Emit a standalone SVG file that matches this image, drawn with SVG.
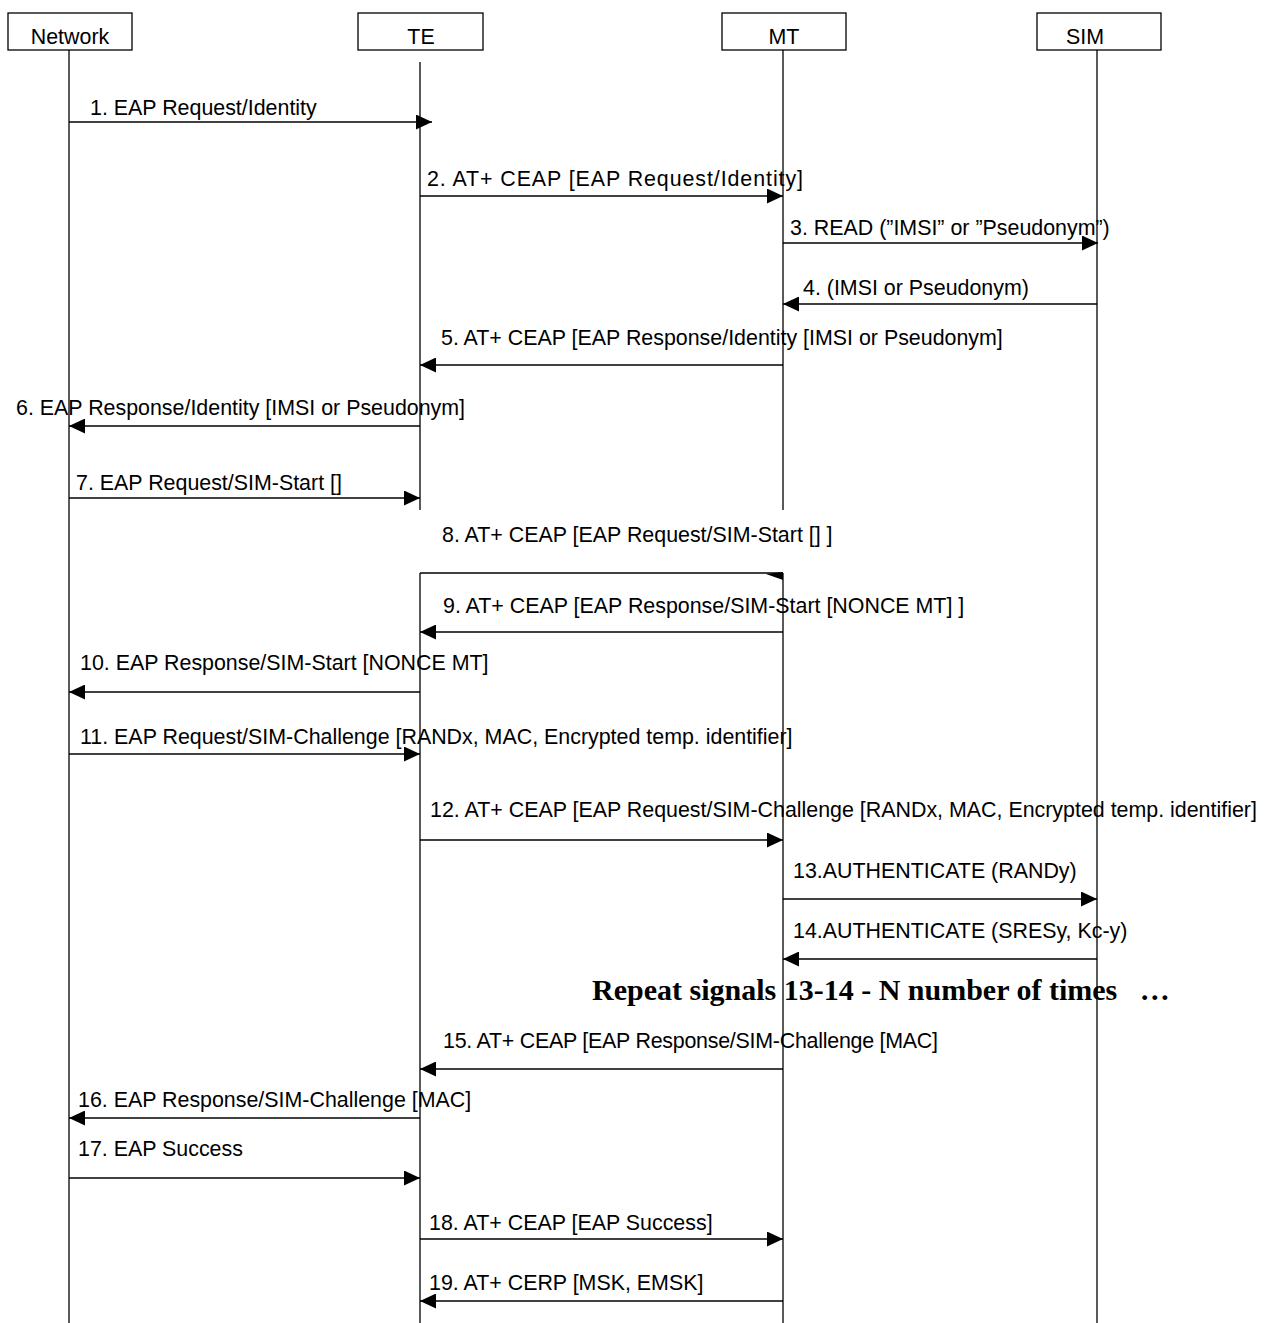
<svg xmlns="http://www.w3.org/2000/svg" width="1282" height="1323" viewBox="0 0 1282 1323">
  <style>
    .box { fill: #fff; stroke: #000; stroke-width: 1.3; }
    .life { stroke: #000; stroke-width: 1.3; fill: none; }
    .msg { stroke: #000; stroke-width: 1.3; fill: none; }
    .head { fill: #000; stroke: none; }
    text { font-family: "Liberation Sans", Arial, sans-serif; font-size: 21.4px; fill: #000; }
    .note { font-family: "Liberation Serif", "Times New Roman", serif; font-size: 30px; font-weight: bold; }
  </style>
  <defs>
    <marker id="arrowR" viewBox="0 0 16 15" refX="16" refY="7.5" markerWidth="16" markerHeight="15" markerUnits="userSpaceOnUse" orient="auto">
      <path class="head" d="M0,0 L16,7.5 L0,15 Z"/>
    </marker>
  </defs>

  <!-- participants -->
  <g id="network">
    <rect class="box" x="8" y="13" width="124" height="37"/>
    <text x="70" y="44" text-anchor="middle">Network</text>
    <line class="life" x1="69" y1="50" x2="69" y2="1323"/>
  </g>
  <g id="te">
    <rect class="box" x="358" y="13" width="125" height="37"/>
    <text x="421" y="44" text-anchor="middle">TE</text>
    <line class="life" x1="420" y1="62" x2="420" y2="510"/>
    <line class="life" x1="420" y1="573" x2="420" y2="1323"/>
  </g>
  <g id="mt">
    <rect class="box" x="722" y="13" width="124" height="37"/>
    <text x="784" y="44" text-anchor="middle">MT</text>
    <line class="life" x1="783" y1="50" x2="783" y2="510"/>
    <line class="life" x1="783" y1="573" x2="783" y2="1323"/>
  </g>
  <g id="sim">
    <rect class="box" x="1037" y="13" width="124" height="37"/>
    <text x="1066" y="44">SIM</text>
    <line class="life" x1="1097" y1="50" x2="1097" y2="1323"/>
  </g>

  <!-- messages -->
  <g id="connectors">
    <line class="msg" x1="69" y1="122" x2="432" y2="122" marker-end="url(#arrowR)"/>
    <line class="msg" x1="420" y1="196" x2="783" y2="196" marker-end="url(#arrowR)"/>
    <line class="msg" x1="783" y1="243" x2="1098" y2="243" marker-end="url(#arrowR)"/>
    <line class="msg" x1="1097" y1="304" x2="783" y2="304" marker-end="url(#arrowR)"/>
    <line class="msg" x1="783" y1="365" x2="420" y2="365" marker-end="url(#arrowR)"/>
    <line class="msg" x1="420" y1="426" x2="69" y2="426" marker-end="url(#arrowR)"/>
    <line class="msg" x1="69" y1="498" x2="420" y2="498" marker-end="url(#arrowR)"/>
    <line class="msg" x1="420" y1="573" x2="783" y2="573"/>
    <polygon class="head" points="766,574 783,572 783,580"/>
    <line class="msg" x1="783" y1="632" x2="420" y2="632" marker-end="url(#arrowR)"/>
    <line class="msg" x1="420" y1="692" x2="69" y2="692" marker-end="url(#arrowR)"/>
    <line class="msg" x1="69" y1="754" x2="420" y2="754" marker-end="url(#arrowR)"/>
    <line class="msg" x1="420" y1="840" x2="783" y2="840" marker-end="url(#arrowR)"/>
    <line class="msg" x1="783" y1="899" x2="1097" y2="899" marker-end="url(#arrowR)"/>
    <line class="msg" x1="1097" y1="959" x2="783" y2="959" marker-end="url(#arrowR)"/>
    <line class="msg" x1="783" y1="1069" x2="420" y2="1069" marker-end="url(#arrowR)"/>
    <line class="msg" x1="420" y1="1118" x2="69" y2="1118" marker-end="url(#arrowR)"/>
    <line class="msg" x1="69" y1="1178" x2="420" y2="1178" marker-end="url(#arrowR)"/>
    <line class="msg" x1="420" y1="1239" x2="783" y2="1239" marker-end="url(#arrowR)"/>
    <line class="msg" x1="783" y1="1301" x2="420" y2="1301" marker-end="url(#arrowR)"/>
  </g>

  <!-- message labels -->
  <g id="labels">
    <text x="90" y="115">1. EAP Request/Identity</text>
    <text x="427" y="186" textLength="376" lengthAdjust="spacing">2. AT+ CEAP [EAP Request/Identity]</text>
    <text x="790" y="235">3. READ (”IMSI” or ”Pseudonym”)</text>
    <text x="803" y="295">4. (IMSI or Pseudonym)</text>
    <text x="441" y="345">5. AT+ CEAP [EAP Response/Identity [IMSI or Pseudonym]</text>
    <text x="16" y="415">6. EAP Response/Identity [IMSI or Pseudonym]</text>
    <text x="76" y="490">7. EAP Request/SIM-Start []</text>
    <text x="442" y="542">8. AT+ CEAP [EAP Request/SIM-Start [] ]</text>
    <text x="443" y="613">9. AT+ CEAP [EAP Response/SIM-Start [NONCE MT] ]</text>
    <text x="80" y="670">10. EAP Response/SIM-Start [NONCE MT]</text>
    <text x="80" y="744">11. EAP Request/SIM-Challenge [RANDx, MAC, Encrypted temp. identifier]</text>
    <text x="430" y="817">12. AT+ CEAP [EAP Request/SIM-Challenge [RANDx, MAC, Encrypted temp. identifier]</text>
    <text x="793" y="878">13.AUTHENTICATE (RANDy)</text>
    <text x="793" y="938">14.AUTHENTICATE (SRESy, Kc-y)</text>
    <text class="note" x="592" y="1000" xml:space="preserve">Repeat signals 13-14 - N number of times   …</text>
    <text x="443" y="1048" textLength="495" lengthAdjust="spacing">15. AT+ CEAP [EAP Response/SIM-Challenge [MAC]</text>
    <text x="78" y="1107">16. EAP Response/SIM-Challenge [MAC]</text>
    <text x="78" y="1156">17. EAP Success</text>
    <text x="429" y="1230">18. AT+ CEAP [EAP Success]</text>
    <text x="429" y="1290">19. AT+ CERP [MSK, EMSK]</text>
  </g>
</svg>
